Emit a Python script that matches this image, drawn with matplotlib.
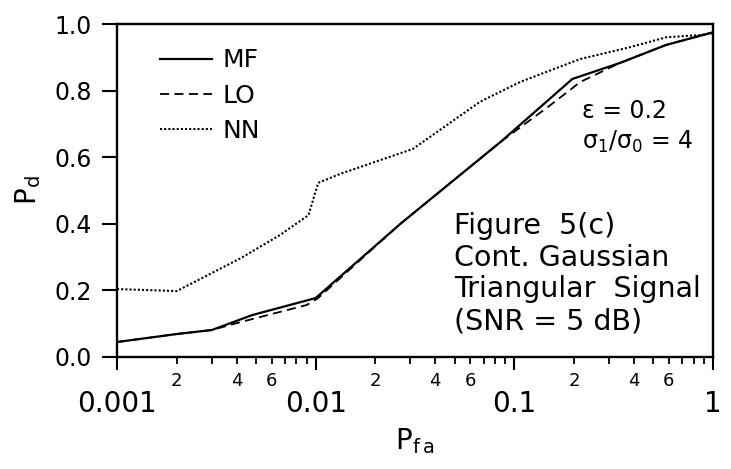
import matplotlib.pyplot as plt
import matplotlib.ticker as mticker

plt.rcParams['font.family'] = ['DejaVu Sans']
plt.rcParams['mathtext.fontset'] = 'dejavusans'

# data
mf_x = [0.001, 0.002, 0.003, 0.0048, 0.01, 0.0267, 0.0853, 0.196, 0.34, 0.58, 1.0]
mf_y = [0.045, 0.069, 0.081, 0.126, 0.177, 0.40, 0.646, 0.835, 0.883, 0.937, 0.975]

lo_x = [0.001, 0.002, 0.003, 0.0042, 0.0048, 0.009, 0.0102, 0.0267, 0.0853, 0.15, 0.215, 0.34, 0.58, 1.0]
lo_y = [0.045, 0.069, 0.081, 0.105, 0.114, 0.156, 0.175, 0.40, 0.646, 0.754, 0.826, 0.883, 0.937, 0.975]

nn_x = [0.001, 0.002, 0.0042, 0.0066, 0.0092, 0.0103, 0.0133, 0.0309, 0.067, 0.107, 0.215, 0.38, 0.58, 0.86, 1.0]
nn_y = [0.204, 0.198, 0.297, 0.366, 0.426, 0.523, 0.55, 0.625, 0.766, 0.826, 0.895, 0.93, 0.96, 0.967, 0.972]

major_ticks = [0.001, 0.01, 0.1, 1]
major_labels = ["0.001", "0.01", "0.1", "1"]
minor_ticks = [m * d for d in (0.001, 0.01, 0.1) for m in range(2, 10)]
minor_labels = [str(m) if m in (2, 4, 6) else "" for d in (0.001, 0.01, 0.1) for m in range(2, 10)]

fig = plt.figure(figsize=(7.31, 4.69), dpi=100)
ax = fig.add_axes([117 / 731, 1 - 357 / 469, 596 / 731, 333 / 469])

ax.plot(mf_x, mf_y, color='black', lw=1.6, ls='-', label='MF')
ax.plot(lo_x, lo_y, color='black', lw=1.3, ls=(0, (5, 3)), label='LO')
ax.plot(nn_x, nn_y, color='black', lw=1.5, ls=(0, (1, 1)), label='NN')

ax.set_xscale('log')
ax.set_xlim(0.001, 1)
ax.set_ylim(0, 1)

ax.set_xticks(major_ticks)
ax.set_xticklabels(major_labels, fontsize=20)
ax.xaxis.set_minor_locator(mticker.FixedLocator(minor_ticks))
ax.xaxis.set_minor_formatter(mticker.FixedFormatter(minor_labels))
ax.tick_params(axis='x', which='major', length=9, width=1.5, pad=15, direction='out')
ax.tick_params(axis='x', which='minor', length=5, width=1.3, pad=6, labelsize=13, direction='out')

ax.set_yticks([0.0, 0.2, 0.4, 0.6, 0.8, 1.0])
ax.set_yticklabels(["0.0", "0.2", "0.4", "0.6", "0.8", "1.0"], fontsize=17)
ax.tick_params(axis='y', length=11, width=1.5, pad=7, direction='out')

for s in ax.spines.values():
    s.set_linewidth(1.7)

ax.set_xlabel(r"$\mathregular{P_{f\,a}}$", fontsize=20, labelpad=6)
ax.set_ylabel(r"$\mathregular{P_d}$", fontsize=20, labelpad=8)

ax.legend(loc='upper left', bbox_to_anchor=(0.055, 0.957), frameon=False,
          fontsize=18, handlelength=2.1, handletextpad=0.4, labelspacing=0.45,
          borderaxespad=0)

def axpos(px, py):
    return (px - 117) / 596, (357 - py) / 333

x0, y0 = axpos(582, 111)
ax.text(x0, y0, "ε = 0.2", fontsize=17, ha='left', va='center', transform=ax.transAxes)
x0, y0 = axpos(582, 142)
ax.text(x0, y0, r"$\mathregular{\sigma_1/\sigma_0}$ = 4", fontsize=17, ha='left', va='center',
        transform=ax.transAxes)

x0, y0 = axpos(454, 212)
ax.text(x0, y0, "Figure  5(c)\nCont. Gaussian\nTriangular  Signal\n(SNR = 5 dB)",
        fontsize=20.5, ha='left', va='top', linespacing=1.17, transform=ax.transAxes)

fig.savefig("out.png", dpi=100)
